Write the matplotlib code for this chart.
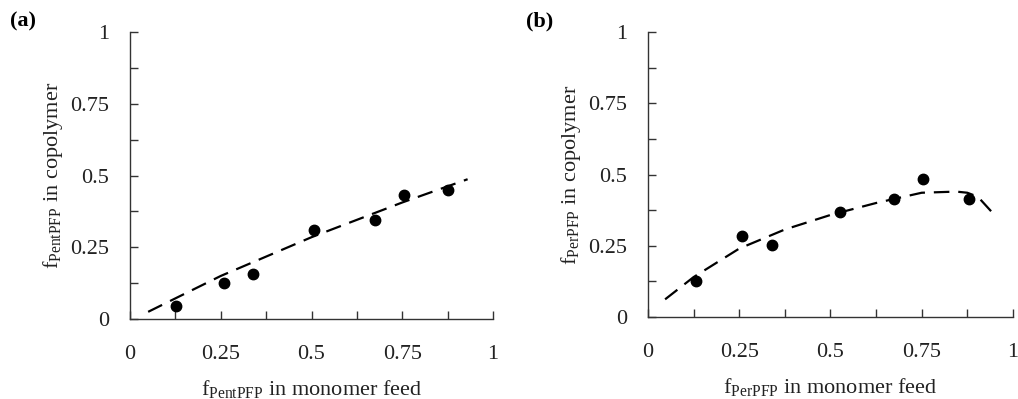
import numpy as np
import matplotlib.pyplot as plt

plt.rcParams["font.family"] = "Liberation Serif"
plt.rcParams["mathtext.fontset"] = "custom"
plt.rcParams["mathtext.rm"] = "Liberation Serif"
plt.rcParams["font.size"] = 16

# panel (a): PentPFP
pent_feed = [0.128, 0.259, 0.339, 0.506, 0.674, 0.755, 0.877]
pent_copo = [0.045, 0.124, 0.157, 0.310, 0.345, 0.431, 0.449]
pent_fit_x = [0.05, 0.25, 0.50, 0.75, 0.93]
pent_fit_y = [0.025, 0.150, 0.285, 0.406, 0.487]

# panel (b): PerPFP
per_feed = [0.131, 0.259, 0.341, 0.527, 0.673, 0.754, 0.881]
per_copo = [0.125, 0.284, 0.252, 0.369, 0.413, 0.483, 0.413]
per_fit_x = [0.047, 0.125, 0.25, 0.375, 0.5, 0.625, 0.75, 0.845, 0.875, 0.904, 0.956]
per_fit_y = [0.062, 0.140, 0.240, 0.307, 0.358, 0.400, 0.436, 0.440, 0.436, 0.422, 0.349]

ticks = [0, 0.25, 0.5, 0.75, 1]
tick_labels = ["0", "0.25", "0.5", "0.75", "1"]

fig = plt.figure(figsize=(10.18, 3.99), dpi=100)
ax_a = fig.add_axes([0.1277, 0.2005, 0.3566, 0.7193])
ax_b = fig.add_axes([0.6365, 0.2055, 0.3585, 0.7143])

panels = [
    (ax_a, pent_feed, pent_copo, pent_fit_x, pent_fit_y, "PentPFP"),
    (ax_b, per_feed, per_copo, per_fit_x, per_fit_y, "PerPFP"),
]

for ax, fx, fy, lx, ly, name in panels:
    ax.plot(lx, ly, color="black", lw=1.6, dashes=(7, 4), zorder=2)
    ax.plot(fx, fy, "o", color="black", ms=7.5, zorder=3, clip_on=False)
    ax.set_xlim(0, 1)
    ax.set_ylim(0, 1)
    ax.spines["top"].set_visible(False)
    ax.spines["right"].set_visible(False)
    for s in ("left", "bottom"):
        ax.spines[s].set_color("#333333")
        ax.spines[s].set_linewidth(1.0)
    ax.set_xticks(ticks)
    ax.set_xticklabels(tick_labels)
    ax.set_yticks(ticks)
    ax.set_yticklabels(tick_labels)
    ax.set_xticks(np.arange(0.125, 1.0, 0.25), minor=True)
    ax.set_yticks(np.arange(0.125, 1.0, 0.25), minor=True)
    ax.tick_params(which="both", direction="in", length=6, width=1, color="#333333",
                   labelcolor="#222222")
    ax.tick_params(axis="x", which="both", pad=19)
    ax.tick_params(axis="y", which="both", pad=15)
    ax.set_xlabel(r"f$_{\mathrm{%s}}$ in monomer feed" % name, fontsize=16,
                  color="#222222", labelpad=10)
    ax.set_ylabel(r"f$_{\mathrm{%s}}$ in copolymer" % name, fontsize=16,
                  color="#222222", labelpad=4)

fig.text(0.010, 0.945, "(a)", fontsize=16, fontweight="bold", va="center", ha="left")
fig.text(0.517, 0.945, "(b)", fontsize=16, fontweight="bold", va="center", ha="left")

fig.savefig("out.png", dpi=100)
